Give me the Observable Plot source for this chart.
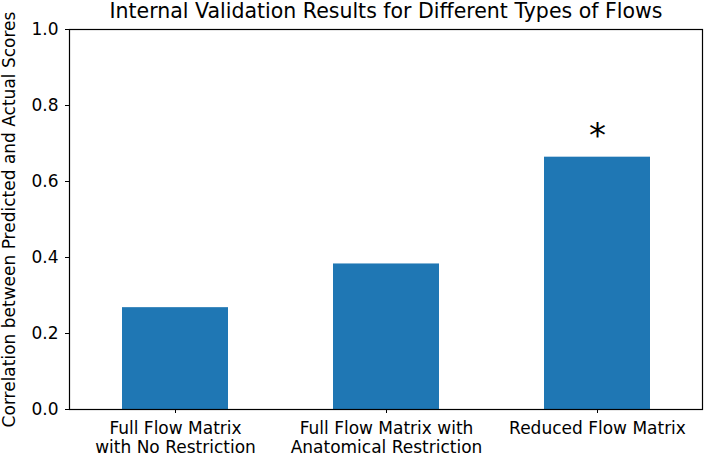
<!DOCTYPE html>
<html>
<head>
<meta charset="utf-8">
<script src="https://cdn.jsdelivr.net/npm/d3@7"></script>
<script src="https://cdn.jsdelivr.net/npm/@observablehq/plot@0.6"></script>
<style>
  html, body { margin: 0; padding: 0; background: #fff; }
  svg { display: block; }
</style>
</head>
<body>
<div id="chart"></div>
<script>
const categories = ["Full Flow Matrix\nwith No Restriction", "Full Flow Matrix with\nAnatomical Restriction", "Reduced Flow Matrix"];
const values = [0.268, 0.383, 0.664];
const significant = [false, false, true];
const yTicks = [0, 0.2, 0.4, 0.6, 0.8, 1.0];
const title = "Internal Validation Results for Different Types of Flows";
const yLabel = "Correlation between Predicted and Actual Scores";

const data = categories.map((c, i) => ({cat: c, value: values[i], sig: significant[i]}));
const font = "DejaVu Sans, sans-serif";

const chart = Plot.plot({
  width: 709,
  height: 454,
  marginLeft: 69,
  marginRight: 7,
  marginTop: 29,
  marginBottom: 45,
  style: {fontFamily: font, fontSize: "17px", color: "#000", background: "#fff"},
  x: {domain: categories, paddingInner: 0.5, paddingOuter: 0.25},
  y: {domain: [0, 1]},
  marks: [
    Plot.barY(data, {x: "cat", y: "value", fill: "#1f77b4"}),
    Plot.frame({stroke: "#000", strokeWidth: 1.2}),
    Plot.axisY({ticks: yTicks, tickFormat: d3.format(".1f"), tickSize: 4, tickPadding: 7, fontSize: 17,
      label: yLabel, labelAnchor: "center", labelArrow: "none", labelOffset: 67, stroke: "#000"}),
    Plot.axisX({tickSize: 4, tickPadding: 7, fontSize: 17, lineHeight: 1.12, label: null, stroke: "#000"}),
    Plot.text(data.filter(d => d.sig), {x: "cat", y: "value", text: () => "*", fontSize: 34, lineAnchor: "middle", dy: -21, fill: "#000"}),
    Plot.text([title], {frameAnchor: "top", text: d => d, fontSize: 20.5, lineAnchor: "bottom", dy: -12, fill: "#000"})
  ]
});
document.getElementById("chart").appendChild(chart);
</script>
</body>
</html>
